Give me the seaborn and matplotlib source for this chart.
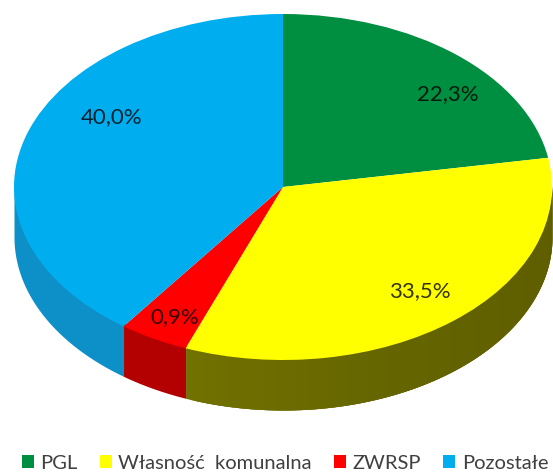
import numpy as np
import matplotlib
matplotlib.use("Agg")
import matplotlib.pyplot as plt
from matplotlib.patches import Patch
import seaborn as sns

categories = ["PGL", "Własność  komunalna", "ZWRSP", "Pozostałe"]
drawn_shares = [22.3, 33.6, 4.2, 39.9]
value_labels = ["22,3%", "33,5%", "0,9%", "40,0%"]
top_colors = ["#008E40", "#FFFF00", "#FF0000", "#00AEEF"]

sns.set_theme(style="white")
plt.rcParams["font.family"] = ["Lato", "DejaVu Sans"]

W, H = 553, 473
CX, CY, RX, RY, DEPTH = 283, 187, 269, 173, 50

fig = plt.figure(figsize=(W / 100, H / 100), dpi=100)
ax = fig.add_axes([0, 0, 1, 1])
palette = sns.color_palette(top_colors)

wedges, _ = ax.pie(drawn_shares, colors=palette, startangle=90, counterclock=False,
                   radius=1, wedgeprops={"linewidth": 0})
ax.set_aspect("auto")
ax.set_xlim(-CX / RX, (W - CX) / RX)
ax.set_ylim(-(H - CY) / RY, CY / RY)
for w in wedges:
    w.set_zorder(5)


def side_color(i, t):
    """Shade of the side wall; t runs from 0 (right) to 1 (left) of the front."""
    base = np.array(palette[i])
    if i == 1:
        return tuple(base * (0.37 + 0.20 * t ** 2))
    if i == 2:
        return tuple(base * 0.70)
    return (0.05, 0.56, 0.78)


d = DEPTH / RY
for i, w in enumerate(wedges):
    a0, a1 = w.theta1, w.theta2
    a0, a1 = (a0 - 360, a1 - 360) if a1 > 180 else (a0, a1)
    lo, hi = max(a0, -180), min(a1, 0)
    if hi <= lo:
        continue
    # only the yellow wall carries a gradient; others are one flat piece
    n = int(hi - lo) + 1 if i == 1 else 1
    edges = np.linspace(lo, hi, n + 1)
    for s, e in zip(edges[:-1], edges[1:]):
        # each strip runs on under the next one, so no seams show
        th = np.radians(np.linspace(s, min(e + 2.0, hi), 60))
        t = -(s + e) / 2 / 180
        ax.fill_between(np.cos(th), np.sin(th) - d, np.sin(th) + 0.02,
                        color=side_color(i, t), linewidth=0, zorder=2)


def px(x, y):
    return (x - CX) / RX, (CY - y) / RY


label_pixels = [(448, 94), (420, 291), (175, 317), (112, 117)]
for txt, (x, y) in zip(value_labels, label_pixels):
    ax.text(*px(x, y), txt, ha="center", va="center", fontsize=16,
            color="black", alpha=0.8, zorder=10)

handles = [Patch(facecolor=c, edgecolor="none") for c in palette]
ax.legend(handles, categories, loc="center", bbox_to_anchor=(285 / W, 1 - 463 / H),
          ncol=4, frameon=False, fontsize=14.5, handlelength=0.6, handleheight=0.6,
          handletextpad=0.32, columnspacing=1.1, labelcolor="#404040",
          borderpad=0, borderaxespad=0)
fig.savefig("out.png", dpi=100)
